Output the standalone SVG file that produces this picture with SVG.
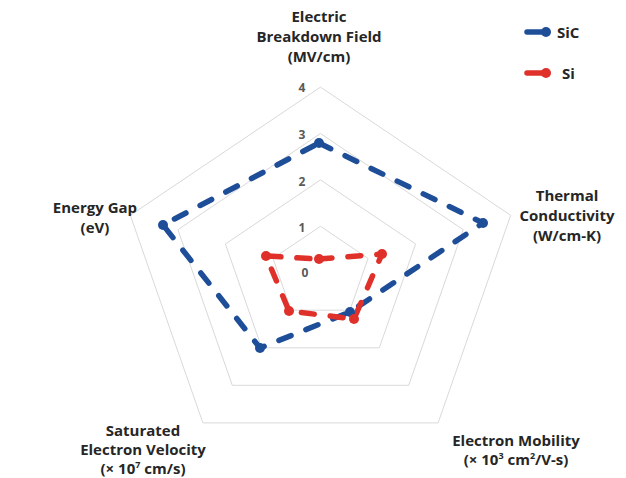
<svg xmlns="http://www.w3.org/2000/svg" width="626" height="478" viewBox="0 0 626 478">
<style>
.grid{fill:none;stroke:#d9d9d9;stroke-width:1}
.lbl{font-family:"Open Sans","Liberation Sans",sans-serif;font-weight:700;font-size:15px;fill:#262626;text-anchor:middle}
.tick{font-family:"Open Sans","Liberation Sans",sans-serif;font-weight:700;font-size:12px;fill:#595959;text-anchor:middle}
.sic{fill:none;stroke:#1f4e99;stroke-width:5.5;stroke-linecap:round;stroke-linejoin:round;stroke-dasharray:13 16}
.si{fill:none;stroke:#e0302a;stroke-width:5.5;stroke-linecap:round;stroke-linejoin:round;stroke-dasharray:13 16}
.dsic{fill:#1f4e99}
.dsi{fill:#e0302a}
.leg{font-family:"Open Sans","Liberation Sans",sans-serif;font-weight:700;font-size:15px;fill:#262626}
.sup{font-size:9px}
</style>
<rect width="626" height="478" fill="#ffffff"/>
<g id="grid">
<polygon class="grid" points="320.5,226.3 368.1,258.4 349.9,310.2 291.1,310.2 273,258.4"/>
<polygon class="grid" points="320.5,179.9 415.6,244 379.3,347.8 261.7,347.8 225.4,244"/>
<polygon class="grid" points="320.5,133.5 463.2,229.7 408.7,385.3 232.3,385.3 177.9,229.7"/>
<polygon class="grid" points="320.5,87.1 510.7,215.3 438.1,422.9 202.9,422.9 130.3,215.3"/>
</g>
<g id="ticks">
<text class="tick" x="302" y="92">4</text>
<text class="tick" x="302" y="139">3</text>
<text class="tick" x="302" y="186">2</text>
<text class="tick" x="302" y="232">1</text>
<text class="tick" x="305" y="277">0</text>
</g>
<g id="connectors">
<path class="sic" d="M319,143 L483,223 L350,312 L260,348 L163,225 Z"/>
<path class="si" d="M319,259 L382,254 L354,319 L289,311 L266,256 Z"/>
</g>
<g id="sic-points">
<circle class="dsic" cx="319" cy="143" r="5"/>
<circle class="dsic" cx="483" cy="223" r="5"/>
<circle class="dsic" cx="350" cy="312" r="5"/>
<circle class="dsic" cx="260" cy="348" r="5"/>
<circle class="dsic" cx="163" cy="225" r="5"/>
</g>
<g id="si-points">
<circle class="dsi" cx="319" cy="259" r="5"/>
<circle class="dsi" cx="382" cy="254" r="5"/>
<circle class="dsi" cx="354" cy="319" r="5"/>
<circle class="dsi" cx="289" cy="311" r="5"/>
<circle class="dsi" cx="266" cy="256" r="5"/>
</g>
<g id="axis-breakdown">
<text class="lbl" x="319" y="22">Electric</text>
<text class="lbl" x="319" y="42">Breakdown Field</text>
<text class="lbl" x="319" y="62">(MV/cm)</text>
</g>
<g id="axis-thermal">
<text class="lbl" x="567" y="201">Thermal</text>
<text class="lbl" x="567" y="221">Conductivity</text>
<text class="lbl" x="567" y="241">(W/cm-K)</text>
</g>
<g id="axis-mobility">
<text class="lbl" x="516" y="446">Electron Mobility</text>
<text class="lbl" x="516" y="465">(× 10<tspan class="sup" dy="-6">3</tspan><tspan dy="6"> cm</tspan><tspan class="sup" dy="-6">2</tspan><tspan dy="6">/V-s)</tspan></text>
</g>
<g id="axis-velocity">
<text class="lbl" x="143" y="436">Saturated</text>
<text class="lbl" x="143" y="455">Electron Velocity</text>
<text class="lbl" x="143" y="474">(× 10<tspan class="sup" dy="-6">7</tspan><tspan dy="6"> cm/s)</tspan></text>
</g>
<g id="axis-gap">
<text class="lbl" x="95" y="213">Energy Gap</text>
<text class="lbl" x="95" y="233">(eV)</text>
</g>
<g id="legend">
<line x1="527" y1="32" x2="546" y2="32" stroke="#1f4e99" stroke-width="5.5" stroke-linecap="round"/>
<circle class="dsic" cx="546" cy="32" r="5"/>
<text class="leg" x="557" y="38">SiC</text>
<line x1="527" y1="73" x2="546" y2="73" stroke="#e0302a" stroke-width="5.5" stroke-linecap="round"/>
<circle class="dsi" cx="546" cy="73" r="5"/>
<text class="leg" x="562" y="79">Si</text>
</g>
</svg>
